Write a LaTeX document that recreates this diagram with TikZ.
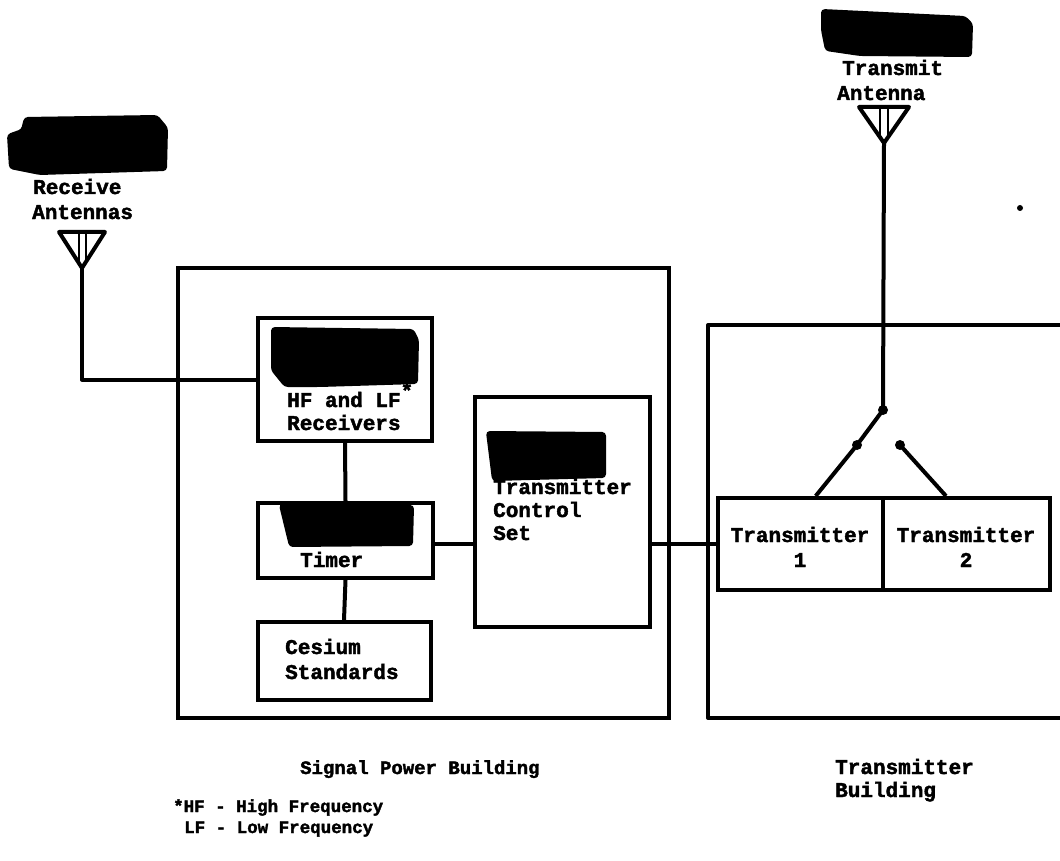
\documentclass[tikz,border=0pt]{standalone}
\usepackage{fontspec}
\setmonofont{Liberation Mono}[BoldFeatures={FakeBold=2}]
\usetikzlibrary{calc}
\begin{document}
\begin{tikzpicture}[x=1pt,y=-1pt,
  ln/.style={line width=4pt,line join=round},
  box/.style={draw,line width=4pt,rectangle,inner sep=0pt},
  lbl/.style={anchor=base west,inner sep=0pt,font=\fontsize{21}{25}\selectfont\ttfamily\bfseries},
  clbl/.style={anchor=base,inner sep=0pt,font=\fontsize{21}{25}\selectfont\ttfamily\bfseries},
  blob/.style={fill=black,draw=black,line width=2pt,rounded corners=3pt},
  dotc/.style={fill=black,circle,inner sep=0pt,minimum size=10pt}]
\useasboundingbox (0,0) rectangle (1060,861);
\fill[white] (0,0) rectangle (1060,861);

% buildings
\node[box,minimum width=491,minimum height=450] (spb) at (423.5,493) {};
\draw[ln] (1070,325) coordinate (tbtr) -- (708,325) -- (708,718) -- (1070,718) coordinate (tbbr);

% boxes
\node[box,minimum width=174,minimum height=123] (rcv) at (345,379.5) {};
\node[box,minimum width=175,minimum height=75] (timer) at (345.5,540.5) {};
\node[box,minimum width=173,minimum height=78] (ces) at (344,661) {};
\node[box,minimum width=175,minimum height=230] (tcs) at (562.5,512) {};
\node[box,minimum width=165,minimum height=92] (tx1) at (800.5,544) {};
\node[box,minimum width=167,minimum height=92] (tx2) at (966.5,544) {};

% receive antenna
\coordinate (rant) at (82,268);
\draw[ln] (59,232) -- (105,232) -- (rant) -- cycle;
\draw[line width=2.5pt] (79,232) -- (79,262) (86,232) -- (86,262);
\draw[ln] (rant) |- (rcv.west);

% transmit antenna
\coordinate (tant) at (884,143);
\draw[ln] (859,107) -- (909,107) -- (tant) -- cycle;
\draw[line width=2.5pt] (880,107) -- (880,138) (888,107) -- (888,138);

% switch
\node[dotc] (sw) at (883,410) {};
\node[dotc] (swa) at (857,445) {};
\node[dotc] (swb) at (900,445) {};
\coordinate (t1top) at ($(tx1.north west)!0.59!(tx1.north east)$);
\coordinate (t2top) at ($(tx2.north west)!0.38!(tx2.north east)$);
\draw[ln] (tant) -- (sw.center) -- (swa.center) -- (t1top);
\draw[ln] (swb.center) -- (t2top);

% connectors
\draw[ln] (rcv.south) -- (timer.north);
\draw[ln] (timer.south) -- (ces.north);
\draw[ln] (timer.east |- 0,544) -- (tcs.west |- 0,544);
\draw[ln] (tcs.east |- tx1.west) -- (tx1.west);

% redaction blobs
\fill[blob] (25,118) -- (157,116) -- (167,128) -- (166,170) -- (40,174) -- (10,168) -- (8,135) -- (22,130) -- cycle;
\fill[blob] (822,10) -- (965,17) -- (972,24) -- (971,56) -- (860,55) -- (826,50) -- (822,30) -- cycle;
\fill[blob] (272,328) -- (413,330) -- (418,340) -- (417,383) -- (320,386) -- (285,386) -- (272,370) -- cycle;
\fill[blob] (280,505) -- (413,506) -- (412,545) -- (290,546) -- cycle;
\fill[blob] (487,432) -- (605,433) -- (605,477) -- (493,480) -- cycle;

% texts
\node[lbl] (t_rcv1) at (33,194) {Receive};
\node[lbl] (t_rcv2) at (32,219) {Antennas};
\node[lbl] (t_tx1) at (842,75) {Transmit};
\node[lbl] (t_tx2) at (837,100) {Antenna};
\node[lbl] (t_hf) at (287,407) {HF and LF\raisebox{9pt}{*}};
\node[lbl] (t_recv) at (287,430) {Receivers};
\node[lbl] (t_timer) at (300,567) {Timer};
\node[lbl] (t_ces1) at (285,654) {Cesium};
\node[lbl] (t_ces2) at (285,679) {Standards};
\node[lbl] (t_tcs1) at (493,494) {Transmitter};
\node[lbl] (t_tcs2) at (493,517) {Control};
\node[lbl] (t_tcs3) at (493,540) {Set};
\node[clbl] (t_x1a) at (800,542) {Transmitter};
\node[clbl] (t_x1b) at (800,567) {1};
\node[clbl] (t_x2a) at (966,542) {Transmitter};
\node[clbl] (t_x2b) at (966,567) {2};
\node[lbl,font=\fontsize{19}{23}\selectfont\ttfamily\bfseries] (t_spb) at (300,774) {Signal Power Building};
\node[lbl] (t_tb1) at (835,774) {Transmitter};
\node[lbl] (t_tb2) at (835,797) {Building};
\node[lbl,font=\fontsize{17.5}{21}\selectfont\ttfamily\bfseries] (t_leg1) at (173,812) {*HF - High Frequency};
\node[lbl,font=\fontsize{17.5}{21}\selectfont\ttfamily\bfseries] (t_leg2) at (184,833) {LF - Low Frequency};

% speck
\node[dotc,minimum size=6pt] (speck) at (1020,208) {};
\end{tikzpicture}
\end{document}
